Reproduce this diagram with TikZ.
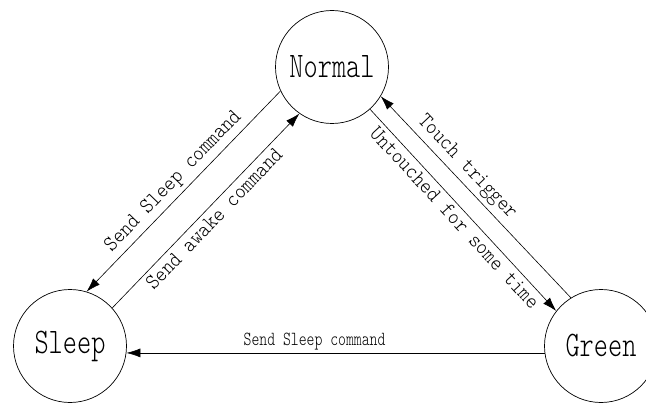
\documentclass[tikz,border=0pt]{standalone}
\usepackage{fontspec}
\usetikzlibrary{arrows.meta}
\newfontfamily\statefont{lmmonolt10-regular.otf}[FakeStretch=0.75]
\newfontfamily\slantfont{lmmonolt10-regular.otf}[FakeStretch=0.9]
\begin{document}
\begin{tikzpicture}[x=1pt, y=1pt, >={Latex[length=14pt, width=9pt]},
    state/.style={circle, draw, line width=0.7pt, minimum size=113pt, inner sep=0pt,
        font=\statefont\fontsize{36}{40}\selectfont},
    trans/.style={->, line width=0.6pt},
    lbl/.style={font=\statefont\fontsize{20}{24}\selectfont, inner sep=3pt},
    slbl/.style={font=\slantfont\fontsize{22}{26}\selectfont, inner sep=4pt}]
    \useasboundingbox (0,0) rectangle (646,405);

    \node[state] (Normal) at (332, 338) {Normal};
    \node[state] (Sleep) at (70, 59) {Sleep};
    \node[state] (Green) at (601, 59) {Green};

    \draw[trans] (Normal.205) -- node[midway, sloped, above, slbl] {Send Sleep command} (Sleep.73);
    \draw[trans] (Sleep.42) -- node[midway, sloped, below, slbl] {Send awake command} (Normal.235);
    \draw[trans] (Normal.-48) -- node[midway, sloped, below, slbl] {Untouched for some time} (Green.142);
    \draw[trans] (Green.122) -- node[pos=0.6, sloped, above, slbl] {Touch trigger} (Normal.-31);
    \draw[trans] (Green.187) -- node[pos=0.55, above, lbl] {Send Sleep command} (Sleep.-7);
\end{tikzpicture}
\end{document}
